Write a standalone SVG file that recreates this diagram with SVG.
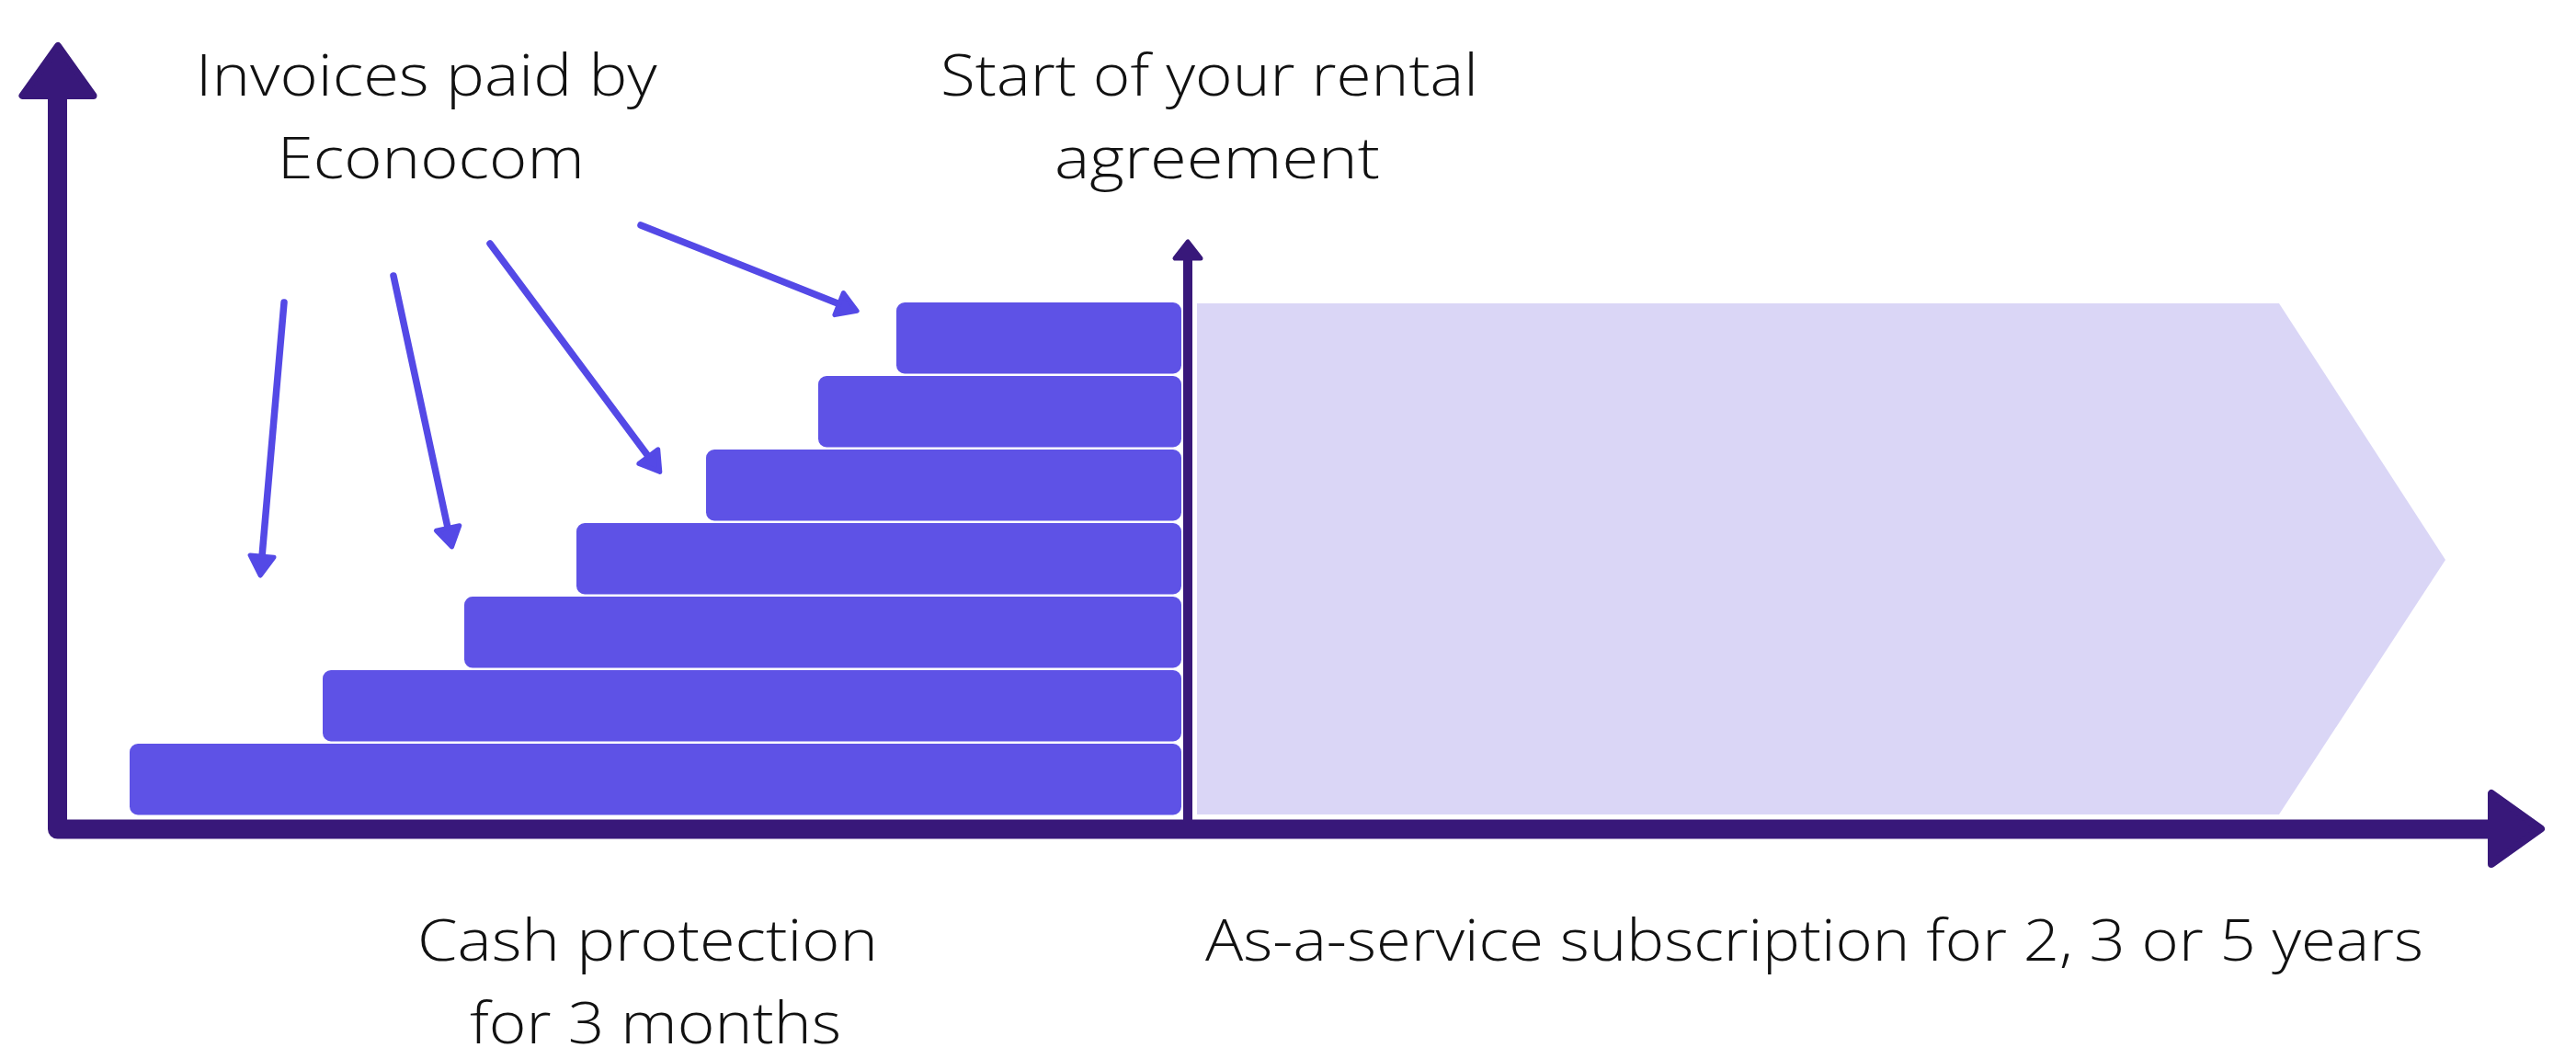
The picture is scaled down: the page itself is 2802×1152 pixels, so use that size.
<svg xmlns="http://www.w3.org/2000/svg" width="2802" height="1152" viewBox="0 0 2802 1152">
  <style>
    .lbl { font-family: "Open Sans", "Lato", "Liberation Sans", sans-serif; font-weight: 300; font-size: 63px; fill: #111111; }
    .bar { fill: #5E52E6; }
    .axis { fill: none; stroke: #38187A; stroke-width: 21; stroke-linejoin: round; }
    .axhead { fill: #38187A; stroke: #38187A; stroke-width: 8; stroke-linejoin: round; }
    .conn { fill: none; stroke: #5449E6; stroke-width: 7.5; stroke-linecap: round; }
  </style>
  <defs>
    <marker id="ah" markerUnits="userSpaceOnUse" markerWidth="40" markerHeight="40" viewBox="-4 -20 34 40" refX="0" refY="0" orient="auto">
      <path d="M1,-13 L22,0 L1,13 Z" fill="#5449E6" stroke="#5449E6" stroke-width="5" stroke-linejoin="round"/>
    </marker>
  </defs>
  <rect width="2802" height="1152" fill="#FFFFFF"/>

  <g id="subscription">
    <polygon points="1302,330 2479,330 2660,609 2479,886 1302,886" fill="#DAD6F6"/>
  </g>

  <g id="invoices">
    <rect class="bar" x="975" y="329" width="310" height="77.5" rx="9"/>
    <rect class="bar" x="890" y="409" width="395" height="77.5" rx="9"/>
    <rect class="bar" x="768" y="489" width="517" height="77.5" rx="9"/>
    <rect class="bar" x="627" y="569" width="658" height="77.5" rx="9"/>
    <rect class="bar" x="505" y="649" width="780" height="77.5" rx="9"/>
    <rect class="bar" x="351" y="729" width="934" height="77.5" rx="9"/>
    <rect class="bar" x="141" y="809" width="1144" height="77.5" rx="9"/>
  </g>

  <g id="rental-start">
    <line x1="1292" y1="281" x2="1292" y2="893" stroke="#38187A" stroke-width="10"/>
    <polygon points="1292,263 1278,281 1306,281" fill="#38187A" stroke="#38187A" stroke-width="5" stroke-linejoin="round"/>
  </g>

  <g id="axes">
    <path class="axis" d="M62.5,104 L62.5,902 L2712,902"/>
    <polygon class="axhead" points="63,50 24.5,104 101.5,104"/>
    <polygon class="axhead" points="2710,863 2710,940 2764,901.5"/>
  </g>

  <g id="connectors">
    <line class="conn" x1="309" y1="329" x2="285.1" y2="604.1" marker-end="url(#ah)"/>
    <line class="conn" x1="428" y1="300" x2="486.9" y2="573.5" marker-end="url(#ah)"/>
    <line class="conn" x1="533" y1="265" x2="704.7" y2="495.8" marker-end="url(#ah)"/>
    <line class="conn" x1="697" y1="245" x2="911.7" y2="330.2" marker-end="url(#ah)"/>
  </g>

  <g id="label-invoices">
    <text class="lbl" x="212.7" y="103.5" textLength="502" lengthAdjust="spacingAndGlyphs">Invoices paid by</text>
    <text class="lbl" x="301.7" y="194" textLength="334" lengthAdjust="spacingAndGlyphs">Econocom</text>
  </g>
  <g id="label-start">
    <text class="lbl" x="1023" y="104" textLength="585" lengthAdjust="spacingAndGlyphs">Start of your rental</text>
    <text class="lbl" x="1147" y="194" textLength="354" lengthAdjust="spacingAndGlyphs">agreement</text>
  </g>
  <g id="label-cash">
    <text class="lbl" x="454" y="1045" textLength="501" lengthAdjust="spacingAndGlyphs">Cash protection</text>
    <text class="lbl" x="511" y="1135" textLength="404" lengthAdjust="spacingAndGlyphs">for 3 months</text>
  </g>
  <g id="label-subscription">
    <text class="lbl" x="1311" y="1045" textLength="1325" lengthAdjust="spacingAndGlyphs">As-a-service subscription for 2, 3 or 5 years</text>
  </g>
</svg>
